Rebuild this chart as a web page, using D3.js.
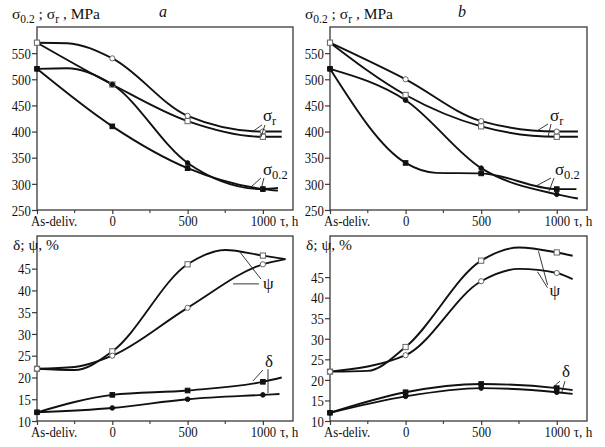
<!DOCTYPE html>
<html><head><meta charset="utf-8">
<script src="https://cdn.jsdelivr.net/npm/d3@7"></script>
<style>
body{margin:0;background:#fff}
svg{display:block}
svg text{font-family:"Liberation Serif","Times New Roman",Times,serif !important;fill:#111}
</style>
</head><body><svg id="c" width="605" height="447"></svg>
<script>
// ---- axes data ----
const xVals = [-500, 0, 500, 1000];
const xLabels = ["As-deliv.", "0", "500", "1000"];
const xMinor = [-250, 250, 750];
const sigmaTicks = [250, 300, 350, 400, 450, 500, 550];
const pctTicks = [10, 15, 20, 25, 30, 35, 40, 45];

// ---- panel a, strength (MPa) : values at As-deliv., 0, 500, 1000 h ----
const sigR1_a = [570, 540, 430, 400];
const sigR1_a_ext = [[-300, 569], [1125, 400]];
const sigR2_a = [570, 490, 420, 390];
const sigR2_a_ext = [[1125, 390]];
const sig02_1_a = [520, 490, 340, 290];
const sig02_1_a_ext = [[-300, 521], [1100, 292]];
const sig02_2_a = [520, 410, 330, 290];
const sig02_2_a_ext = [[1100, 287]];

// ---- panel b, strength ----
const sigR1_b = [570, 500, 420, 400];
const sigR1_b_ext = [[1140, 400]];
const sigR2_b = [570, 470, 410, 390];
const sigR2_b_ext = [[1140, 390]];
const sig02_1_b = [520, 460, 330, 280];
const sig02_1_b_ext = [[1140, 272]];
const sig02_2_b = [520, 340, 320, 290];
const sig02_2_b_ext = [[200, 321], [1130, 290]];

// ---- panel a, ductility (%) ----
const psi1_a = [22, 26, 46, 48];
const psi1_a_ext = [[-250, 21.7], [750, 49.3], [1150, 47.2]];
const psi2_a = [22, 25, 36, 46];
const psi2_a_ext = [[-250, 22.4], [1150, 47.2]];
const del1_a = [12, 16, 17, 19];
const del1_a_ext = [[1125, 20]];
const del2_a = [12, 13, 15, 16];
const del2_a_ext = [[1110, 16.2]];

// ---- panel b, ductility ----
const psi1_b = [22, 28, 49, 51];
const psi1_b_ext = [[-250, 22.2], [750, 52.2], [1105, 50.2]];
const psi2_b = [22, 26, 44, 46];
const psi2_b_ext = [[750, 47], [1105, 44.5]];
const del1_b = [12, 17, 19, 18];
const del1_b_ext = [[1105, 17.5]];
const del2_b = [12, 16, 18, 17];
const del2_b_ext = [[1105, 16.6]];

const svg = d3.select("#c");
const SX = 0.88;   // horizontal squeeze of glyphs
const FS = 14.5;   // tick font size
const FF = '"Liberation Serif","Times New Roman",Times,serif';

function mkSeries(vals, ext, marker) {
  const pts = xVals.map((x, i) => [x, vals[i]]).concat(ext).sort((a, b) => a[0] - b[0]);
  return {pts, marks: xVals.map((x, i) => [x, vals[i]]), marker};
}

const panels = [
  {box: [37, 293, 27, 210], yDom: [250, 600], ticks: sigmaTicks, title: "sig", letter: "a", letterX: 159,
   series: [mkSeries(sigR1_a, sigR1_a_ext, "oc"), mkSeries(sigR2_a, sigR2_a_ext, "os"),
            mkSeries(sig02_1_a, sig02_1_a_ext, "fc"), mkSeries(sig02_2_a, sig02_2_a_ext, "fs")],
   notes: [{t: "r", at: [1000, 420], lines: [[[994, 412.6], [928, 399.2]], [[1014, 412.6], [987, 389.6]]]},
           {t: "02", at: [1000, 317], lines: [[[987, 311.2], [914, 292.1]], [[1007, 311.2], [987, 288.3]]]}]},
  {box: [330, 587, 27, 210], yDom: [250, 600], ticks: sigmaTicks, title: "sig", letter: "b", letterX: 458,
   series: [mkSeries(sigR1_b, sigR1_b_ext, "oc"), mkSeries(sigR2_b, sigR2_b_ext, "os"),
            mkSeries(sig02_1_b, sig02_1_b_ext, "fc"), mkSeries(sig02_2_b, sig02_2_b_ext, "fs")],
   notes: [{t: "r", at: [955, 420], lines: [[[942, 414.5], [869, 401.1]], [[962, 414.5], [942, 389.6]]]},
           {t: "02", at: [988, 317], lines: [[[962, 311.2], [863, 295.9]], [[982, 311.2], [949, 286.3]]]}]},
  {box: [37, 293, 236, 421], yDom: [10, 52.5], ticks: pctTicks, title: "pct",
   series: [mkSeries(psi1_a, psi1_a_ext, "os"), mkSeries(psi2_a, psi2_a_ext, "oc"),
            mkSeries(del1_a, del1_a_ext, "fs"), mkSeries(del2_a, del2_a_ext, "fc")],
   notes: [{t: "ψ", at: [1000, 40.3], lines: [[[848, 48.8], [987, 42.6]], [[802, 41.5], [974, 41.5]]]},
           {t: "δ", at: [1014, 22.4], lines: [[[1000, 21.7], [934, 19.2]], [[1034, 21.9], [1034, 16.4]]]}]},
  {box: [330, 587, 236, 421], yDom: [10, 55], ticks: pctTicks, title: "pct",
   series: [mkSeries(psi1_b, psi1_b_ext, "os"), mkSeries(psi2_b, psi2_b_ext, "oc"),
            mkSeries(del1_b, del1_b_ext, "fs"), mkSeries(del2_b, del2_b_ext, "fc")],
   notes: [{t: "ψ", at: [952, 40.4], lines: [[[939, 43.1], [879, 51.3]], [[939, 42.4], [873, 46.3]]]},
           {t: "δ", at: [1034, 20.7], lines: [[[1021, 19.7], [968, 18.0]], [[1054, 19.7], [1034, 17.05]]]}]}
];

panels.forEach(p => {
  const [L, R, T, B] = p.box;
  const x = d3.scaleLinear().domain([-500, 1200]).range([L, R]);
  const y = d3.scaleLinear().domain(p.yDom).range([B, T]);
  const g = svg.append("g").attr("font-family", FF);

  // frame
  g.append("rect").attr("x", L).attr("y", T).attr("width", R - L).attr("height", B - T)
    .attr("fill", "none").attr("stroke", "#3a3a3a").attr("stroke-width", 1.3);

  // x axis
  const xa = g.append("g").attr("transform", `translate(0,${B})`)
    .call(d3.axisBottom(x).tickValues(xVals).tickFormat((d, i) => i === 0 ? "" : xLabels[i]).tickSize(4).tickPadding(2));
  xa.attr("font-family", FF);
  xa.select(".domain").remove();
  xa.selectAll("line").attr("stroke", "#3a3a3a").attr("stroke-width", 1.2);
  xa.selectAll("text").attr("font-size", FS).attr("transform", `scale(${SX},1)`).attr("fill", "#111")
    .style("font-family", FF);
  g.append("text").attr("transform", `translate(${x(-500) - 6},${B + 16}) scale(${SX},1)`)
    .attr("font-size", FS).style("font-family", FF).text(xLabels[0]);
  g.selectAll(".mx").data(xMinor).join("line")
    .attr("x1", d => x(d)).attr("x2", d => x(d)).attr("y1", B).attr("y2", B + 3)
    .attr("stroke", "#3a3a3a").attr("stroke-width", 1.1);
  g.append("text").attr("transform", `translate(${x(1000) + 17},${B + 16}) scale(${SX},1)`)
    .attr("font-size", FS + 0.5).style("font-family", FF).text("τ, h");

  // y axis
  const ya = g.append("g").attr("transform", `translate(${L},0)`)
    .call(d3.axisLeft(y).tickValues(p.ticks).tickSize(5).tickPadding(2));
  ya.attr("font-family", FF);
  ya.select(".domain").remove();
  ya.selectAll("line").attr("stroke", "#3a3a3a").attr("stroke-width", 1.2);
  ya.selectAll("text").attr("font-size", FS).attr("fill", "#111").style("font-family", FF)
    .attr("transform", `scale(${SX},1)`).attr("dy", "0.36em");

  // title
  if (p.title === "sig") {
    const t = g.append("text").attr("x", L - 25).attr("y", 19).attr("font-size", 15.5).style("font-family", FF);
    t.append("tspan").text("σ");
    t.append("tspan").attr("font-size", 11.5).attr("dy", 4).text("0.2");
    t.append("tspan").attr("dy", -4).text(" ; σ");
    t.append("tspan").attr("font-size", 11.5).attr("dy", 4).text("r");
    t.append("tspan").attr("dy", -4).text(" , MPa");
    g.append("text").attr("x", p.letterX).attr("y", 17).attr("font-size", 16).style("font-family", FF)
      .attr("font-style", "italic").text(p.letter);
  } else {
    g.append("text").attr("x", L - 24).attr("y", 250).attr("font-size", 15.5).style("font-family", FF).text("δ; ψ, %");
  }

  // curves
  const line = d3.line().x(d => x(d[0])).y(d => y(d[1])).curve(d3.curveMonotoneX);
  p.series.forEach(s => {
    g.append("path").attr("d", line(s.pts)).attr("fill", "none")
      .attr("stroke", "#111").attr("stroke-width", 1.9);
  });
  // markers
  p.series.forEach(s => {
    const filled = s.marker[0] === "f";
    const circ = s.marker[1] === "c";
    s.marks.forEach(m => {
      const cx = x(m[0]), cy = y(m[1]);
      if (circ) {
        g.append("circle").attr("cx", cx).attr("cy", cy).attr("r", filled ? 2.3 : 2.6)
          .attr("fill", filled ? "#111" : "#fff").attr("stroke", filled ? "#111" : "#666").attr("stroke-width", 1);
      } else {
        const h = filled ? 2.3 : 2.6;
        g.append("rect").attr("x", cx - h).attr("y", cy - h).attr("width", 2 * h).attr("height", 2 * h)
          .attr("fill", filled ? "#111" : "#fff").attr("stroke", filled ? "#111" : "#666").attr("stroke-width", 1);
      }
    });
  });

  // annotations
  p.notes.forEach(n => {
    n.lines.forEach(l => {
      g.append("line").attr("x1", x(l[0][0])).attr("y1", y(l[0][1]))
        .attr("x2", x(l[1][0])).attr("y2", y(l[1][1]))
        .attr("stroke", "#222").attr("stroke-width", 0.9);
    });
    const t = g.append("text").attr("x", x(n.at[0])).attr("y", y(n.at[1])).attr("font-size", 17).style("font-family", FF);
    if (n.t === "r") { t.append("tspan").text("σ"); t.append("tspan").attr("font-size", 12.5).attr("dy", 4).text("r"); }
    else if (n.t === "02") { t.append("tspan").text("σ"); t.append("tspan").attr("font-size", 12.5).attr("dy", 4).text("0.2"); }
    else t.text(n.t);
  });
});
</script>
</body></html>
